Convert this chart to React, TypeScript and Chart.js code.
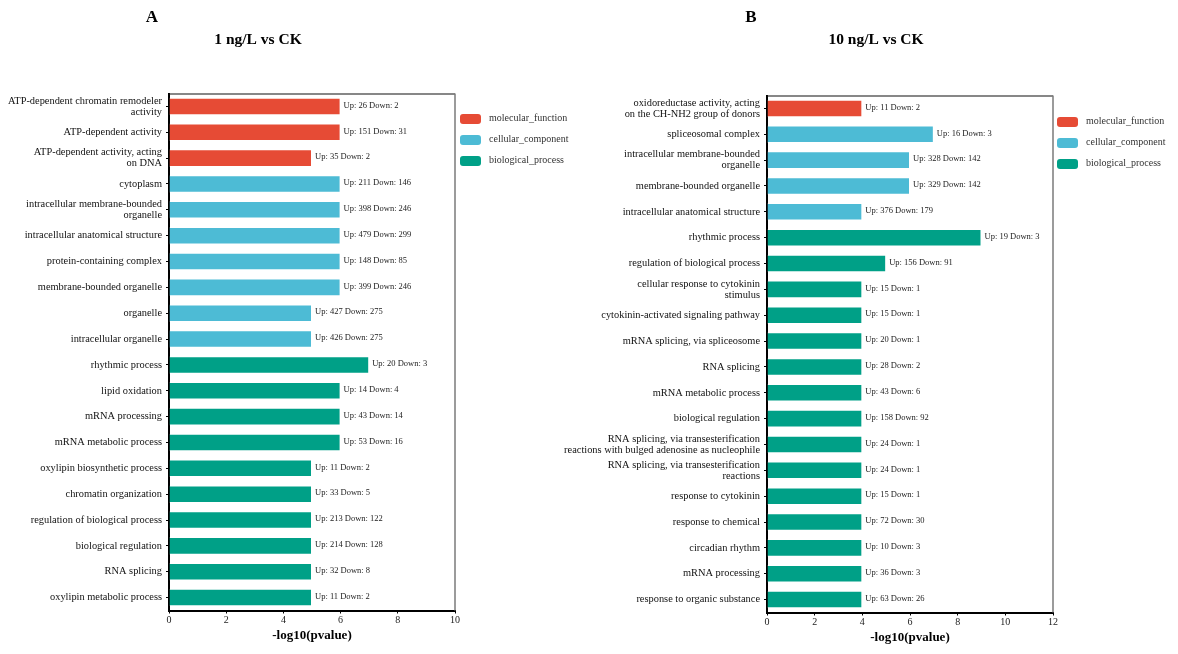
import React, { useEffect, useRef } from "react";
import { Chart, registerables } from "chart.js";

Chart.register(...registerables);

const FONT = "'Liberation Serif', 'Times New Roman', serif";
const COLORS: Record<string, string> = { MF: "#E64B35", CC: "#4DBBD5", BP: "#00A087" };
const legendKeys = ["MF", "CC", "BP"];
const legendNames = ["molecular_function", "cellular_component", "biological_process"];

// ---------- Panel A: 1 ng/L vs CK ----------
const categoriesA: (string | string[])[] = [
  ["ATP-dependent chromatin remodeler", "activity"],
  "ATP-dependent activity",
  ["ATP-dependent activity, acting", "on DNA"],
  "cytoplasm",
  ["intracellular membrane-bounded", "organelle"],
  "intracellular anatomical structure",
  "protein-containing complex",
  "membrane-bounded organelle",
  "organelle",
  "intracellular organelle",
  "rhythmic process",
  "lipid oxidation",
  "mRNA processing",
  "mRNA metabolic process",
  "oxylipin biosynthetic process",
  "chromatin organization",
  "regulation of biological process",
  "biological regulation",
  "RNA splicing",
  "oxylipin metabolic process",
];
const valuesA = [6, 6, 5, 6, 6, 6, 6, 6, 5, 5, 7, 6, 6, 6, 5, 5, 5, 5, 5, 5];
const groupsA = ["MF", "MF", "MF", "CC", "CC", "CC", "CC", "CC", "CC", "CC", "BP", "BP", "BP", "BP", "BP", "BP", "BP", "BP", "BP", "BP"];
const upA = [26, 151, 35, 211, 398, 479, 148, 399, 427, 426, 20, 14, 43, 53, 11, 33, 213, 214, 32, 11];
const downA = [2, 31, 2, 146, 246, 299, 85, 246, 275, 275, 3, 4, 14, 16, 2, 5, 122, 128, 8, 2];
const xTicksMaxA = 10;

// ---------- Panel B: 10 ng/L vs CK ----------
const categoriesB: (string | string[])[] = [
  ["oxidoreductase activity, acting", "on the CH-NH2 group of donors"],
  "spliceosomal complex",
  ["intracellular membrane-bounded", "organelle"],
  "membrane-bounded organelle",
  "intracellular anatomical structure",
  "rhythmic process",
  "regulation of biological process",
  ["cellular response to cytokinin", "stimulus"],
  "cytokinin-activated signaling pathway",
  "mRNA splicing, via spliceosome",
  "RNA splicing",
  "mRNA metabolic process",
  "biological regulation",
  ["RNA splicing, via transesterification", "reactions with bulged adenosine as nucleophile"],
  ["RNA splicing, via transesterification", "reactions"],
  "response to cytokinin",
  "response to chemical",
  "circadian rhythm",
  "mRNA processing",
  "response to organic substance",
];
const valuesB = [4, 7, 6, 6, 4, 9, 5, 4, 4, 4, 4, 4, 4, 4, 4, 4, 4, 4, 4, 4];
const groupsB = ["MF", "CC", "CC", "CC", "CC", "BP", "BP", "BP", "BP", "BP", "BP", "BP", "BP", "BP", "BP", "BP", "BP", "BP", "BP", "BP"];
const upB = [11, 16, 328, 329, 376, 19, 156, 15, 15, 20, 28, 43, 158, 24, 24, 15, 72, 10, 36, 63];
const downB = [2, 3, 142, 142, 179, 3, 91, 1, 1, 1, 2, 6, 92, 1, 1, 1, 30, 3, 3, 26];
const xTicksMaxB = 12;

const H = 654;

type PanelProps = {
  canvasLeft: number;
  canvasWidth: number;
  plotLeft: number;
  plotRight: number;
  plotTop: number;
  plotBottom: number;
  labels: (string | string[])[];
  values: number[];
  groups: string[];
  ups: number[];
  downs: number[];
  xMax: number;
  letter: string;
  letterX: number;
  title: string;
  titleX: number;
  legendX: number;
  legendY: number;
  axisTitleY: number;
};

function Panel(p: PanelProps) {
  const ref = useRef<HTMLCanvasElement>(null);
  useEffect(() => {
    const canvas = ref.current!;
    const off = p.canvasLeft;
    const xAxisH = 20;
    const extras = {
      id: "extras",
      afterDraw(chart: any) {
        const ctx = chart.ctx as CanvasRenderingContext2D;
        const ca = chart.chartArea;
        ctx.save();
        // top & right frame
        ctx.strokeStyle = "#111";
        ctx.lineWidth = 1.2;
        ctx.beginPath();
        ctx.moveTo(ca.left, ca.top + 0.5);
        ctx.lineTo(ca.right, ca.top + 0.5);
        ctx.stroke();
        ctx.strokeStyle = "#7a7a7a";
        ctx.lineWidth = 1.5;
        ctx.beginPath();
        ctx.moveTo(ca.right, ca.top);
        ctx.lineTo(ca.right, ca.bottom);
        ctx.stroke();
        // value annotations
        const meta = chart.getDatasetMeta(0);
        ctx.fillStyle = "#222";
        ctx.font = `8.5px ${FONT}`;
        ctx.textAlign = "left";
        ctx.textBaseline = "middle";
        meta.data.forEach((el: any, i: number) => {
          ctx.fillText(`Up: ${p.ups[i]} Down: ${p.downs[i]}`, el.x + 3, el.y - 1);
        });
        // titles
        ctx.fillStyle = "#000";
        ctx.textAlign = "center";
        ctx.font = `bold 17px ${FONT}`;
        ctx.fillText(p.letter, p.letterX - off, 18);
        ctx.font = `bold 15.5px ${FONT}`;
        ctx.fillText(p.title, p.titleX - off, 40);
        // axis title
        ctx.font = `bold 13px ${FONT}`;
        ctx.fillText("-log10(pvalue)", (ca.left + ca.right) / 2, p.axisTitleY);
        // legend
        ctx.textAlign = "left";
        ctx.font = `10px ${FONT}`;
        legendKeys.forEach((k, i) => {
          const y = p.legendY + i * 21;
          ctx.fillStyle = COLORS[k];
          ctx.beginPath();
          (ctx as any).roundRect(p.legendX - off, y, 21, 10, 3);
          ctx.fill();
          ctx.fillStyle = "#333";
          ctx.fillText(legendNames[i], p.legendX - off + 29, y + 4);
        });
        ctx.restore();
      },
    };
    const chart = new Chart(canvas, {
      type: "bar",
      data: {
        labels: p.labels as any,
        datasets: [
          {
            data: p.values,
            backgroundColor: p.groups.map((g) => COLORS[g]),
            borderColor: "rgba(255,255,255,0.6)",
            borderWidth: 1,
            barPercentage: 0.68,
            categoryPercentage: 1,
          },
        ],
      },
      options: {
        indexAxis: "y",
        animation: false,
        responsive: false,
        maintainAspectRatio: false,
        layout: {
          padding: {
            top: p.plotTop,
            left: 0,
            right: p.canvasWidth - (p.plotRight - off),
            bottom: H - p.plotBottom - xAxisH,
          },
        },
        scales: {
          x: {
            min: 0,
            max: p.xMax,
            ticks: { stepSize: 2, font: { family: FONT, size: 10 }, color: "#222", padding: 1, maxRotation: 0 },
            grid: { drawOnChartArea: false, drawTicks: true, tickLength: 3, color: "#000" },
            border: { color: "#000", width: 2 },
            afterFit: (s: any) => {
              s.height = xAxisH;
            },
          },
          y: {
            ticks: { font: { family: FONT, size: 10.4, lineHeight: 1.05 }, color: "#111", padding: 4, autoSkip: false },
            grid: { drawOnChartArea: false, drawTicks: true, tickLength: 3, color: "#000", offset: false },
            border: { color: "#000", width: 2 },
            afterFit: (s: any) => {
              s.width = p.plotLeft - off;
            },
          },
        },
        plugins: { legend: { display: false }, tooltip: { enabled: false } },
      } as any,
      plugins: [extras],
    });
    return () => chart.destroy();
  }, []);
  return (
    <canvas
      ref={ref}
      width={p.canvasWidth}
      height={H}
      style={{ position: "absolute", left: p.canvasLeft, top: 0, width: p.canvasWidth, height: H, display: "block" }}
    />
  );
}

export default function App() {
  return (
    <div style={{ position: "absolute", left: 0, top: 0, width: 1178, height: 654, background: "#fff", overflow: "hidden" }}>
      <Panel
        canvasLeft={0}
        canvasWidth={600}
        plotLeft={169}
        plotRight={455}
        plotTop={93.5}
        plotBottom={610.5}
        labels={categoriesA}
        values={valuesA}
        groups={groupsA}
        ups={upA}
        downs={downA}
        xMax={xTicksMaxA}
        letter="A"
        letterX={152}
        title="1 ng/L vs CK"
        titleX={258}
        legendX={460}
        legendY={114}
        axisTitleY={636}
      />
      <Panel
        canvasLeft={540}
        canvasWidth={638}
        plotLeft={767}
        plotRight={1053}
        plotTop={95.5}
        plotBottom={612.5}
        labels={categoriesB}
        values={valuesB}
        groups={groupsB}
        ups={upB}
        downs={downB}
        xMax={xTicksMaxB}
        letter="B"
        letterX={751}
        title="10 ng/L vs CK"
        titleX={876}
        legendX={1057}
        legendY={117}
        axisTitleY={638}
      />
    </div>
  );
}
